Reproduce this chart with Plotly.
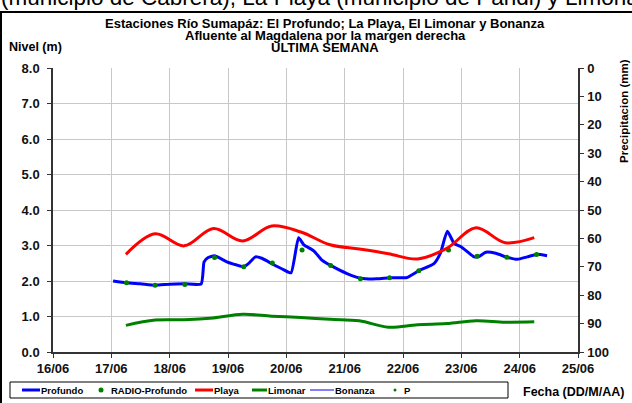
import plotly.graph_objects as go

# days of June (fractional)
profundo_day = [17.03, 17.26, 17.50, 17.75, 18.00, 18.26, 18.54, 18.59, 18.66, 18.77, 18.98, 19.15,
                19.27, 19.35, 19.47, 19.58, 19.76, 19.95, 20.08, 20.21, 20.30, 20.47, 20.61, 20.76,
                21.04, 21.27, 21.55, 21.77, 22.07, 22.27, 22.53, 22.64, 22.76, 22.88, 23.00, 23.22,
                23.30, 23.42, 23.59, 23.78, 23.96, 24.13, 24.29, 24.47]
profundo_val = [2.00, 1.95, 1.92, 1.88, 1.91, 1.92, 1.92, 2.54, 2.66, 2.71, 2.54, 2.45,
                2.40, 2.49, 2.68, 2.64, 2.48, 2.32, 2.23, 3.22, 3.02, 2.85, 2.59, 2.44,
                2.21, 2.08, 2.06, 2.09, 2.10, 2.29, 2.49, 2.78, 3.40, 3.05, 2.96, 2.68,
                2.69, 2.81, 2.78, 2.67, 2.61, 2.68, 2.75, 2.71]

radio_day = [17.26, 17.75, 18.26, 18.77, 19.27, 19.76, 20.27, 20.76, 21.27, 21.77, 22.27, 22.78,
             23.27, 23.78, 24.29]
radio_val = [1.95, 1.88, 1.90, 2.66, 2.40, 2.51, 2.87, 2.44, 2.06, 2.09, 2.29, 2.87,
             2.70, 2.67, 2.75]

half_day = [17.25, 17.75, 18.25, 18.75, 19.25, 19.75, 20.25, 20.75, 21.25, 21.75, 22.25, 22.75,
            23.25, 23.75, 24.25]
playa_val = [2.75, 3.33, 2.99, 3.48, 3.13, 3.55, 3.38, 3.02, 2.90, 2.77, 2.62, 2.92,
             3.50, 3.08, 3.22]
limonar_val = [0.75, 0.90, 0.91, 0.96, 1.06, 1.01, 0.97, 0.92, 0.88, 0.70, 0.77, 0.80,
               0.88, 0.84, 0.85]

tick_days = [16, 17, 18, 19, 20, 21, 22, 23, 24, 25]
tick_text = ["16/06", "17/06", "18/06", "19/06", "20/06", "21/06", "22/06", "23/06", "24/06", "25/06"]

FONT = "Arial, Liberation Sans, sans-serif"
BLUE, RED, GREEN = "#0000ff", "#ff0000", "#008000"

# plot area in pixels, used to place the decorations
L, T, W, H = 53, 68, 525, 284


def px(x):
    return (x - L) / W


def py(y):
    return (T + H - y) / H


fig = go.Figure()
fig.add_trace(go.Scatter(x=profundo_day, y=profundo_val, name="Profundo", mode="lines",
                         line=dict(color=BLUE, width=3, shape="spline", smoothing=0.5)))
fig.add_trace(go.Scatter(x=radio_day, y=radio_val, name="RADIO-Profundo", mode="markers",
                         marker=dict(color=GREEN, size=5)))
fig.add_trace(go.Scatter(x=half_day, y=playa_val, name="Playa", mode="lines",
                         line=dict(color=RED, width=3, shape="spline")))
fig.add_trace(go.Scatter(x=half_day, y=limonar_val, name="Limonar", mode="lines",
                         line=dict(color=GREEN, width=3, shape="spline")))
fig.add_trace(go.Scatter(x=[None], y=[None], name="Bonanza", mode="lines",
                         line=dict(color=BLUE, width=1)))
fig.add_trace(go.Scatter(x=[None], y=[None], name="P", mode="markers", yaxis="y2",
                         marker=dict(color=GREEN, size=3)))

axis_common = dict(showline=True, linecolor="#333333", linewidth=1.5, ticks="outside",
                   ticklen=4, tickcolor="#333333", tickfont=dict(size=13, weight="bold",
                                                                  color="#111111"),
                   zeroline=False)
fig.update_layout(
    width=632, height=403,
    margin=dict(l=L, r=632 - L - W, t=T, b=403 - T - H),
    paper_bgcolor="white", plot_bgcolor="white",
    font=dict(family=FONT, color="black"),
    showlegend=False,
    xaxis=dict(range=[16, 25], tickvals=tick_days, ticktext=tick_text,
               showgrid=True, gridcolor="#c8c8c8", gridwidth=1, **axis_common),
    yaxis=dict(range=[0, 8], dtick=1, tickformat=".1f", ticklabelstandoff=5,
               showgrid=True, gridcolor="#c8c8c8", gridwidth=1, **axis_common),
    yaxis2=dict(range=[100, 0], dtick=10, overlaying="y", side="right",
                showgrid=False, ticklabelstandoff=1, **axis_common),
)

titles = ["Estaciones Río Sumapáz: El Profundo; La Playa, El Limonar y Bonanza",
          "Afluente al Magdalena por la margen derecha",
          "ULTIMA SEMANA"]
for i, t in enumerate(titles):
    fig.add_annotation(text="<b>%s</b>" % t, xref="paper", yref="paper",
                       x=px(325), y=py(24 + 11.5 * i), showarrow=False,
                       font=dict(size=13), xanchor="center", yanchor="middle", borderpad=0)

fig.add_annotation(text="<b>Nivel (m)</b>", xref="paper", yref="paper", x=px(7), y=py(47),
                   showarrow=False, font=dict(size=12.5), xanchor="left", yanchor="middle")
fig.add_annotation(text="<b>Precipitacion (mm)</b>", xref="paper", yref="paper",
                   x=px(624), y=py(111), textangle=-90, showarrow=False,
                   font=dict(size=11.5), xanchor="center", yanchor="middle")
fig.add_annotation(text="<b>Fecha (DD/M/AA)</b>", xref="paper", yref="paper",
                   x=px(521), y=py(392), showarrow=False, font=dict(size=12.5),
                   xanchor="left", yanchor="middle")
# text of the page above the chart, cut by the top edge
fig.add_annotation(text="(municipio de Cabrera), La Playa (municipio de Pandi) y Limonar",
                   xref="paper", yref="paper", x=px(-1), y=py(12), showarrow=False,
                   font=dict(size=22.5), xanchor="left", yanchor="bottom")

# chart frame
fig.add_shape(type="rect", xref="paper", yref="paper", x0=px(1), x1=px(640),
              y0=py(410), y1=py(12), line=dict(color="black", width=2))

# legend box, drawn by hand to keep Excel's compact spacing
fig.add_shape(type="rect", xref="paper", yref="paper", x0=px(10), x1=px(508),
              y0=py(398), y1=py(382), line=dict(color="black", width=1))
legend_items = [("Profundo", "line", BLUE, 3, 22, 40),
                ("RADIO-Profundo", "dot", GREEN, 5, 101, 110),
                ("Playa", "line", RED, 3, 195, 213),
                ("Limonar", "line", GREEN, 3, 252, 267),
                ("Bonanza", "line", BLUE, 1, 310, 334),
                ("P", "dot", GREEN, 3, 395, 403)]
ly = 390
for name, kind, color, size, sx, tx in legend_items:
    if kind == "line":
        fig.add_shape(type="line", xref="paper", yref="paper", x0=px(sx), x1=px(tx),
                      y0=py(ly), y1=py(ly), line=dict(color=color, width=size))
    else:
        r = size / 2
        fig.add_shape(type="circle", xref="paper", yref="paper", x0=px(sx - r), x1=px(sx + r),
                      y0=py(ly + r), y1=py(ly - r), fillcolor=color, line=dict(width=0))
    fig.add_annotation(text="<b>%s</b>" % name, xref="paper", yref="paper", x=px(tx), y=py(ly),
                       showarrow=False, font=dict(size=9.5), xanchor="left", yanchor="middle",
                       borderpad=0)

# the page's default body margin would shift the chart by 8px
fig.write_html("out.html", config={"displayModeBar": False},
               post_script="document.body.style.margin = '0';")
